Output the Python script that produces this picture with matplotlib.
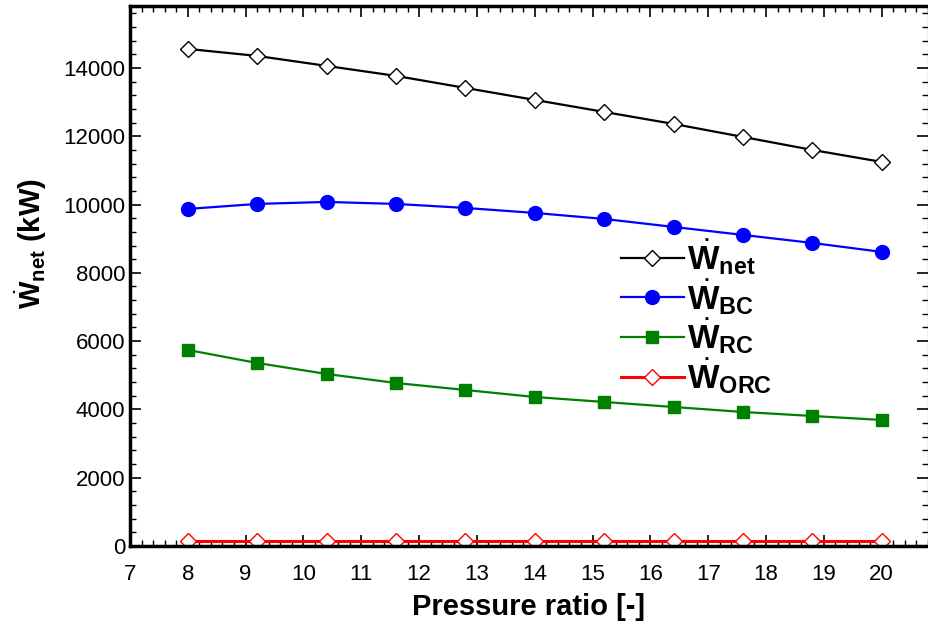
import numpy as np
import matplotlib
matplotlib.use("Agg")
import matplotlib.pyplot as plt
from matplotlib.ticker import MultipleLocator

plt.rcParams['font.family'] = ['Liberation Sans', 'DejaVu Sans']
plt.rcParams['mathtext.fontset'] = 'custom'
plt.rcParams['mathtext.rm'] = 'Liberation Sans'
plt.rcParams['mathtext.bf'] = 'Liberation Sans:bold'

# data
pressure_ratio = [8, 9.2, 10.4, 11.6, 12.8, 14, 15.2, 16.4, 17.6, 18.8, 20]
w_net = [14557, 14352, 14060, 13767, 13415, 13064, 12712, 12361, 11980, 11599, 11248]
w_bc = [9871, 10018, 10076, 10018, 9900, 9754, 9578, 9344, 9110, 8875, 8612]
w_rc = [5741, 5360, 5038, 4774, 4569, 4364, 4218, 4071, 3925, 3808, 3691]
w_orc = [150, 150, 150, 150, 150, 150, 150, 150, 150, 150, 150]

fig = plt.figure(figsize=(9.29, 6.23), dpi=100)
ax = fig.add_axes([0.1399, 0.1236, 0.8590, 0.8660])

ax.plot(pressure_ratio, w_net, '-D', color='black', lw=1.6, ms=8,
        mfc='white', mec='black', mew=1.0, label=r'$\dot{\mathbf{W}}_{\mathbf{net}}$')
ax.plot(pressure_ratio, w_bc, '-o', color='#0000ff', lw=1.6, ms=10,
        label=r'$\dot{\mathbf{W}}_{\mathbf{BC}}$')
ax.plot(pressure_ratio, w_rc, '-s', color='#008000', lw=1.6, ms=8,
        label=r'$\dot{\mathbf{W}}_{\mathbf{RC}}$')
ax.plot(pressure_ratio, w_orc, '-D', color='#ff0000', lw=2.2, ms=8,
        mfc='white', mec='#ff0000', mew=1.0, label=r'$\dot{\mathbf{W}}_{\mathbf{ORC}}$')

ax.set_xlim(7, 20.8)
ax.set_ylim(0, 15800)
ax.xaxis.set_major_locator(MultipleLocator(1))
ax.xaxis.set_minor_locator(MultipleLocator(0.2))
ax.yaxis.set_major_locator(MultipleLocator(2000))
ax.yaxis.set_minor_locator(MultipleLocator(400))
ax.tick_params(which='both', direction='in', top=True, right=True, labelsize=16)
ax.tick_params(which='major', length=8, width=1.2)
ax.tick_params(which='minor', length=4, width=1.0)
ax.tick_params(axis='x', pad=13)

for side in ['left', 'bottom', 'top']:
    ax.spines[side].set_linewidth(2.5)
ax.spines['right'].set_linewidth(0.8)

ax.set_xlabel('Pressure ratio [-]', fontsize=21, fontweight='bold', labelpad=6)
ax.set_ylabel(r'$\dot{\mathbf{W}}_{\mathbf{net}}$ (kW)', fontsize=21, fontweight='bold',
              labelpad=10, y=0.561)

ax.legend(loc='upper left', bbox_to_anchor=(0.598, 0.597), frameon=False,
          fontsize=24, handlelength=1.9, labelspacing=0.0, handletextpad=0.1,
          borderaxespad=0)

fig.savefig('out.png', dpi=100)
